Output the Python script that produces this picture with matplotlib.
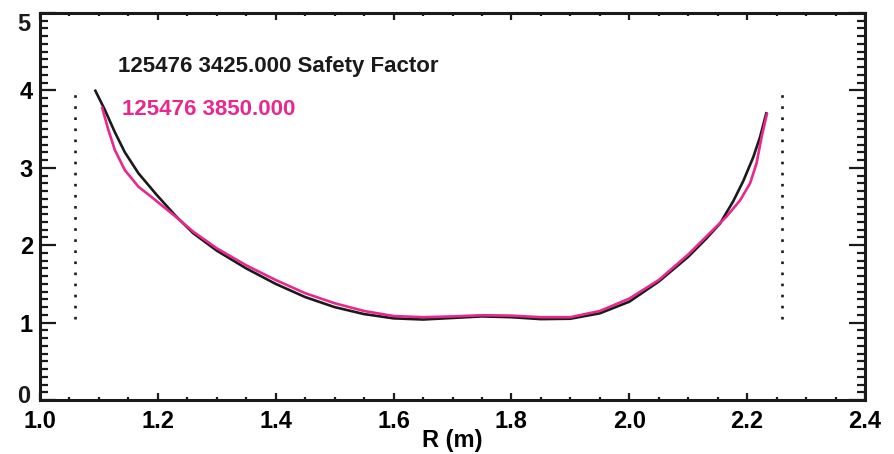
import matplotlib
matplotlib.use('Agg')
import matplotlib.pyplot as plt
from matplotlib.ticker import MultipleLocator, FuncFormatter
from matplotlib.transforms import ScaledTranslation

DPI = 100
MAGENTA = '#E8288C'
BLACK = '#1a1a1a'

# q profile, shot 125476 at t=3425 ms
r_3425 = [1.093, 1.11, 1.127, 1.144, 1.167, 1.198, 1.23, 1.26, 1.30, 1.35,
          1.40, 1.45, 1.50, 1.55, 1.60, 1.65, 1.70, 1.75, 1.80, 1.85,
          1.90, 1.95, 2.00, 2.05, 2.10, 2.13, 2.154, 2.1765, 2.1935, 2.2105,
          2.222, 2.233]
q_3425 = [4.01, 3.75, 3.46, 3.20, 2.93, 2.65, 2.38, 2.155, 1.93, 1.70,
          1.50, 1.33, 1.20, 1.11, 1.055, 1.04, 1.06, 1.08, 1.07, 1.045,
          1.05, 1.12, 1.27, 1.53, 1.85, 2.08, 2.28, 2.57, 2.83, 3.14,
          3.40, 3.72]

# q profile, shot 125476 at t=3850 ms
r_3850 = [1.105, 1.116, 1.127, 1.144, 1.167, 1.192, 1.209, 1.23, 1.26, 1.30,
          1.35, 1.40, 1.45, 1.50, 1.55, 1.60, 1.65, 1.70, 1.75, 1.80,
          1.85, 1.90, 1.95, 2.00, 2.05, 2.10, 2.145, 2.165, 2.188, 2.205,
          2.216, 2.2246, 2.234]
q_3850 = [3.79, 3.49, 3.23, 2.97, 2.756, 2.606, 2.50, 2.37, 2.175, 1.96,
          1.74, 1.55, 1.38, 1.25, 1.15, 1.085, 1.07, 1.08, 1.095, 1.09,
          1.07, 1.07, 1.15, 1.31, 1.55, 1.88, 2.22, 2.37, 2.58, 2.80,
          3.06, 3.40, 3.71]

# boundary markers
r_inner, r_outer = 1.059, 2.259
q_marker = [1.05, 4.0]

plt.rcParams['font.family'] = ['Liberation Sans Narrow', 'Liberation Sans', 'DejaVu Sans']
plt.rcParams['font.weight'] = 'bold'

fig = plt.figure(figsize=(894 / DPI, 454 / DPI), dpi=DPI)
ax = fig.add_axes([40 / 894, 54 / 454, 825 / 894, 387 / 454])

ax.plot(r_3425, q_3425, color=BLACK, lw=1.9, solid_capstyle='butt')
ax.plot(r_3850, q_3850, color=MAGENTA, lw=1.9, solid_capstyle='butt')

for r in (r_inner, r_outer):
    ax.plot([r, r], q_marker, color=BLACK, lw=1.9, dashes=(1, 3.2))

ax.text(1.132, 4.24, '125476 3425.000 Safety Factor', color=BLACK,
        fontsize=16, fontweight='bold', va='baseline')
ax.text(1.139, 3.68, '125476 3850.000', color=MAGENTA,
        fontsize=16, fontweight='bold', va='baseline')

ax.set_xlim(1.0, 2.4)
ax.set_ylim(0, 5)
ax.xaxis.set_major_locator(MultipleLocator(0.2))
ax.xaxis.set_minor_locator(MultipleLocator(0.05))
ax.yaxis.set_major_locator(MultipleLocator(1))
ax.yaxis.set_minor_locator(MultipleLocator(0.1))
ax.xaxis.set_major_formatter(plt.FormatStrFormatter('%.1f'))

# end labels of the q axis are drawn separately, inside the frame
ymin, ymax = ax.get_ylim()
ax.yaxis.set_major_formatter(
    FuncFormatter(lambda v, pos: '' if v in (ymin, ymax) else '%d' % v))
ytrans = ax.get_yaxis_transform()
ax.text(0, ymin, '%d' % ymin,
        transform=ytrans + ScaledTranslation(-7 / 72, -2 / 72, fig.dpi_scale_trans),
        ha='right', va='baseline', fontsize=17, fontweight='bold', color=BLACK)
ax.text(0, ymax, '%d' % ymax,
        transform=ytrans + ScaledTranslation(-7 / 72, 0, fig.dpi_scale_trans),
        ha='right', va='top', fontsize=17, fontweight='bold', color=BLACK)

ax.tick_params(axis='both', which='both', direction='in', top=True, right=True,
               width=1.6, color=BLACK, labelsize=17)
ax.tick_params(axis='x', which='major', length=5, pad=7)
ax.tick_params(axis='x', which='minor', length=2.5)
ax.tick_params(axis='y', which='major', length=11.5, pad=5)
ax.tick_params(axis='y', which='minor', length=5.8)
for s in ax.spines.values():
    s.set_linewidth(2.2)
    s.set_color(BLACK)

ax.set_xlabel('R (m)', fontsize=17, fontweight='bold', labelpad=-3)

fig.savefig('out.png', dpi=DPI)
